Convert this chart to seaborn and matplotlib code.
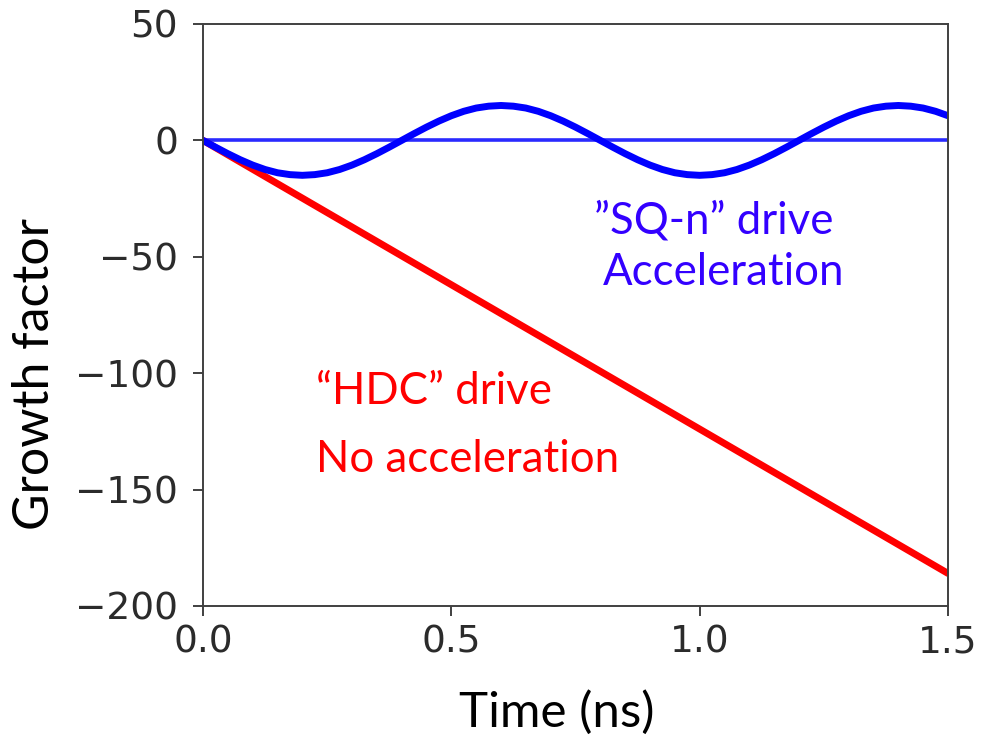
import numpy as np
import pandas as pd
import matplotlib
matplotlib.use("Agg")
import matplotlib.pyplot as plt
import seaborn as sns

# Time axis (ns)
time_ns = np.round(np.arange(0, 1.5001, 0.025), 3)

# "SQ-n" drive: oscillating growth factor
sqn_growth = [
    0.0, -2.9, -5.7, -8.3, -10.6, -12.5, -13.9, -14.7, -15.0, -14.7, -13.9, -12.5, -10.6, -8.3, -5.7, -2.9,
    0.0, 2.9, 5.7, 8.3, 10.6, 12.5, 13.9, 14.7, 15.0, 14.7, 13.9, 12.5, 10.6, 8.3, 5.7, 2.9,
    0.0, -2.9, -5.7, -8.3, -10.6, -12.5, -13.9, -14.7, -15.0, -14.7, -13.9, -12.5, -10.6, -8.3, -5.7, -2.9,
    0.0, 2.9, 5.7, 8.3, 10.6, 12.5, 13.9, 14.7, 15.0, 14.7, 13.9, 12.5, 10.6,
]

# "HDC" drive: steadily decreasing growth factor
hdc_time = [0.0, 0.5, 1.0, 1.5]
hdc_growth = [0.0, -62.0, -124.0, -186.0]

# Reference level
zero_time = [0.0, 1.5]
zero_level = [0.0, 0.0]

x_ticks = [0.0, 0.5, 1.0, 1.5]
y_ticks = [50, 0, -50, -100, -150, -200]

sns.set_style("ticks")
plt.rcParams["font.family"] = ["DejaVu Sans"]

fig = plt.figure(figsize=(9.82, 7.42), dpi=100)
ax = fig.add_axes([203 / 982, 1 - 606 / 742, (948 - 203) / 982, (606 - 24) / 742])

sqn = pd.DataFrame({"t": time_ns, "g": sqn_growth})
hdc = pd.DataFrame({"t": hdc_time, "g": hdc_growth})
ref = pd.DataFrame({"t": zero_time, "g": zero_level})

sns.lineplot(data=ref, x="t", y="g", ax=ax, color="#2a2aff", linewidth=2.6)
sns.lineplot(data=hdc, x="t", y="g", ax=ax, color="#ff0000", linewidth=5.0)
sns.lineplot(data=sqn, x="t", y="g", ax=ax, color="#0000ff", linewidth=5.0, sort=False)

ax.set_xlim(0, 1.5)
ax.set_ylim(-200, 50)
ax.set_xticks(x_ticks)
ax.set_yticks(y_ticks)
ax.set_xticklabels([f"{v:.1f}" for v in x_ticks])
ax.set_yticklabels([f"{v}".replace("-", "\u2212") for v in y_ticks])
ax.set_xlabel("")
ax.set_ylabel("")

for s in ax.spines.values():
    s.set_visible(True)
    s.set_color("#404040")
    s.set_linewidth(1.4)

ax.tick_params(axis="both", which="major", labelsize=27, labelcolor="#2b2b2b",
               color="#404040", length=7, width=1.4)
ax.tick_params(axis="x", pad=6)
ax.tick_params(axis="y", pad=11)

label_font = "Lato"
fig.text(557 / 982, 1 - 727 / 742, "Time (ns)", fontsize=35.5, family=label_font,
         color="black", ha="center", va="baseline")
fig.text(35 / 982, 1 - 374 / 742, "Growth factor", fontsize=36, family=label_font,
         color="black", ha="center", va="center", rotation=90)

blue_text = "#3300ff"
ann_size = 31.5
ax.text(0.788, -39.8, "\u201dSQ-n\u201d drive", fontsize=ann_size, family=label_font,
        color=blue_text, ha="left", va="baseline")
ax.text(0.805, -62.1, "Acceleration", fontsize=ann_size, family=label_font,
        color=blue_text, ha="left", va="baseline")
ax.text(0.228, -113.4, "\u201cHDC\u201d drive", fontsize=ann_size, family=label_font,
        color="#ff0000", ha="left", va="baseline")
ax.text(0.228, -142.6, "No acceleration", fontsize=ann_size, family=label_font,
        color="#ff0000", ha="left", va="baseline")

fig.savefig("out.png", dpi=100)
